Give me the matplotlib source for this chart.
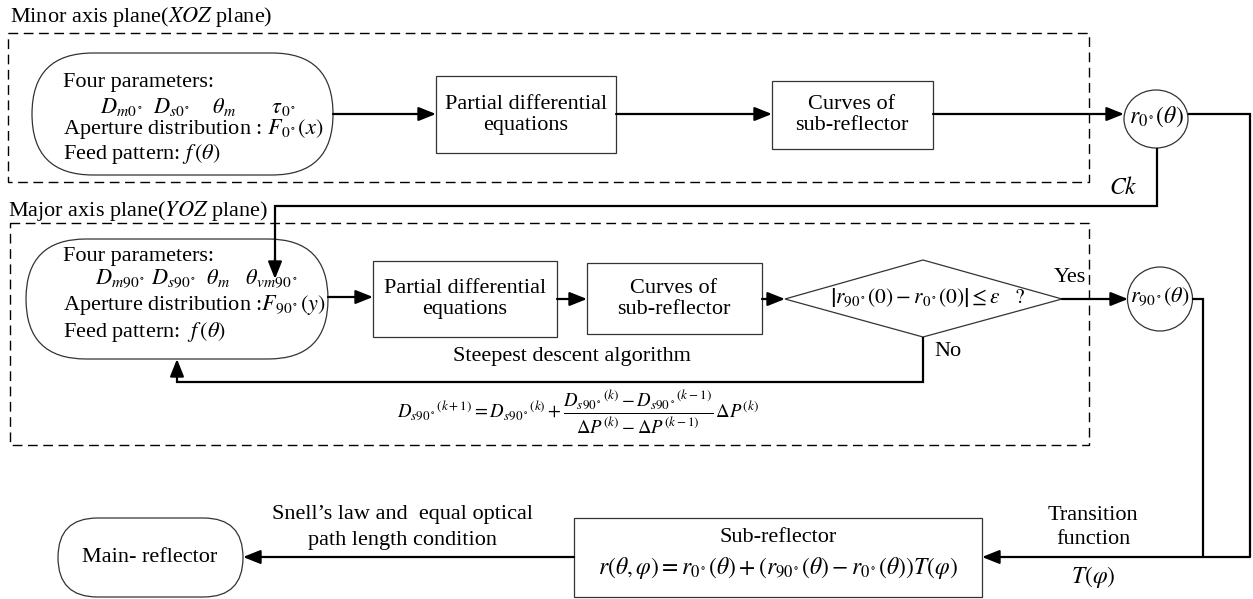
import matplotlib.pyplot as plt
from matplotlib.patches import FancyBboxPatch, Rectangle, Ellipse, Polygon

plt.rcParams['font.family'] = ['Liberation Serif', 'DejaVu Serif']
plt.rcParams['mathtext.fontset'] = 'stix'

# --- texts of the flowchart ---
group_titles = [r'Minor axis plane($XOZ$ plane)', r'Major axis plane($YOZ$ plane)']
minor_inputs = [
    'Four parameters:',
    r'$D_{m0^\circ}\;\;D_{s0^\circ}\quad\;\theta_m\qquad\;\tau_{0^\circ}$',
    r'Aperture distribution : $F_{0^\circ}(x)$',
    r'Feed pattern: $f\,(\theta)$',
]
major_inputs = [
    'Four parameters:',
    r'$D_{m90^\circ}\;D_{s90^\circ}\;\;\theta_m\quad\theta_{vm90^\circ}$',
    r'Aperture distribution :$F_{90^\circ}(y)$',
    r'Feed pattern:  $f\,(\theta)$',
]
step_labels = ['Partial differential\nequations', 'Curves of\nsub-reflector']
node_labels = [r'$r_{0^\circ}(\theta)$', r'$r_{90^\circ}(\theta)$']
condition = r'$\left|r_{90^\circ}(0)-r_{0^\circ}(0)\right|\leq\varepsilon\quad?$'
branch_labels = ['Yes', 'No']
loop_label = 'Steepest descent algorithm'
update_rule = (r'${D_{s90^\circ}}^{(k+1)}={D_{s90^\circ}}^{(k)}+'
               r'\dfrac{{D_{s90^\circ}}^{(k)}-{D_{s90^\circ}}^{(k-1)}}'
               r'{\Delta P^{(k)}-\Delta P^{(k-1)}}\,\Delta P^{(k)}$')
link_label = r'$Ck$'
sub_labels = ['Sub-reflector',
              r'$r(\theta,\varphi)=r_{0^\circ}(\theta)+(r_{90^\circ}(\theta)-r_{0^\circ}(\theta))T(\varphi)$']
transition_labels = ['Transition', 'function', r'$T(\varphi)$']
snell_labels = ['Snell\u2019s law and  equal optical', 'path length condition']
main_label = 'Main- reflector'

W, H = 1253, 599
fig = plt.figure(figsize=(W / 100, H / 100), dpi=100)
ax = fig.add_axes([0, 0, 1, 1])
ax.set_xlim(0, W)
ax.set_ylim(H, 0)
ax.axis('off')

FS = 16
BOX = dict(facecolor='white', edgecolor='#333333', linewidth=0.9)
LW = 1.6


def line(xs, ys):
    ax.plot(xs, ys, color='black', lw=LW, solid_capstyle='butt', solid_joinstyle='miter')


def arrow(p0, p1):
    ax.annotate('', xy=p1, xytext=p0,
                arrowprops=dict(arrowstyle='-|>,head_length=0.75,head_width=0.3',
                                color='black', lw=LW, shrinkA=0, shrinkB=0,
                                mutation_scale=14))


def text(x, y, s, size=FS, ha='center', **kw):
    ax.text(x, y, s, fontsize=size, ha=ha, va='center', **kw)


def stadium(x0, y0, x1, y1):
    h = y1 - y0
    ax.add_patch(FancyBboxPatch((x0, y0), x1 - x0, h,
                                boxstyle=f'round,pad=0,rounding_size={h / 2}', **BOX))


def box(x0, y0, x1, y1):
    ax.add_patch(Rectangle((x0, y0), x1 - x0, y1 - y0, **BOX))


# --- dashed groups ---
for (x0, y0, x1, y1) in [(8, 33, 1089, 182), (10, 223, 1089, 445)]:
    ax.add_patch(Rectangle((x0, y0), x1 - x0, y1 - y0, fill=False, edgecolor='black',
                           linewidth=1.0, linestyle=(0, (7, 4))))
text(10, 17, group_titles[0], ha='left')
text(8, 211, group_titles[1], ha='left')

# --- minor axis row ---
stadium(32, 53, 333, 175)
ys = [82, 107, 129, 154]
for i, s in enumerate(minor_inputs):
    text(100 if i == 1 else 63, ys[i], s, ha='left')
box(436, 76, 616, 153)
text(526, 115, step_labels[0], linespacing=1.1)
box(772, 81, 933, 149)
text(852, 115, step_labels[1], linespacing=1.1)
ax.add_patch(Ellipse((1156, 119), 64, 58, **BOX))
text(1156, 117, node_labels[0], size=17)
arrow((333, 114), (436, 114))
arrow((616, 114), (772, 114))
arrow((933, 114), (1124, 114))

# --- link from r0 to major axis input ---
line([1157, 1157, 275, 275], [148, 206, 206, 262])
arrow((275, 258), (275, 279))
text(1123, 188, link_label, size=17)

# --- major axis row ---
stadium(26, 239, 328, 359)
ys = [257, 279, 305, 332]
for i, s in enumerate(major_inputs):
    text(95 if i == 1 else 63, ys[i], s, ha='left')
box(373, 261, 557, 337)
text(465, 299, step_labels[0], linespacing=1.1)
box(587, 263, 762, 334)
text(674, 299, step_labels[1], linespacing=1.1)
ax.add_patch(Polygon([(785, 299), (923, 260), (1062, 299), (923, 337)], closed=True, **BOX))
text(928, 298, condition, size=15.5)
ax.add_patch(Ellipse((1160, 299), 65, 64, **BOX))
text(1160, 297, node_labels[1], size=16)
arrow((328, 297), (373, 297))
arrow((557, 299), (587, 299))
arrow((762, 299), (785, 299))
arrow((1062, 299), (1128, 299))
text(1070, 277, branch_labels[0])
text(948, 352, branch_labels[1])

# steepest descent loop
line([923, 923, 177, 177], [337, 382, 382, 370])
arrow((177, 375), (177, 359))
text(572, 357, loop_label)
text(578, 412, update_rule, size=13.5)

# --- transition to sub-reflector ---
line([1188, 1250, 1250], [114, 114, 557])
line([1192, 1203, 1203], [299, 299, 557])
arrow((1250, 557), (982, 557))
text(1093, 515, transition_labels[0])
text(1093, 540, transition_labels[1])
text(1093, 577, transition_labels[2], size=17)

box(574, 518, 982, 597)
text(778, 537, sub_labels[0])
text(778, 568, sub_labels[1], size=17)

arrow((574, 557), (243, 557))
text(402, 515, snell_labels[0])
text(402, 540, snell_labels[1])
stadium(58, 518, 243, 597)
text(150, 557, main_label)

fig.savefig('out.png', dpi=100)
